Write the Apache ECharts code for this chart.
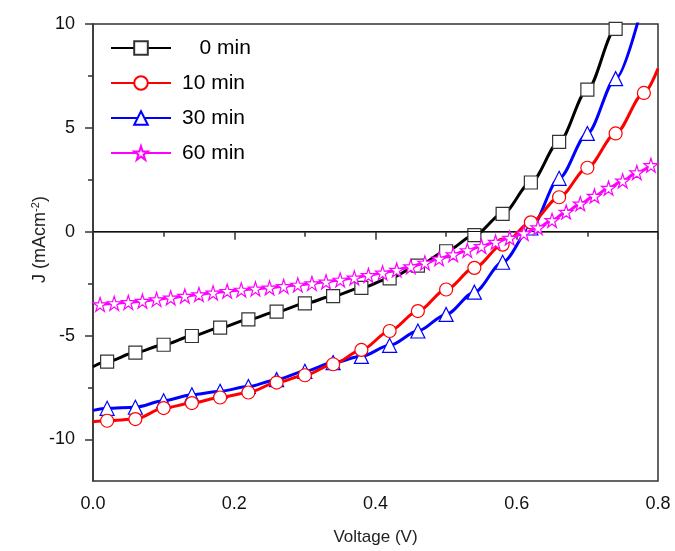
<!DOCTYPE html>
<html>
<head>
<meta charset="utf-8">
<script src="https://cdn.jsdelivr.net/npm/echarts@6/dist/echarts.min.js"></script>
<style>
  html, body { margin: 0; padding: 0; background: #fff; }
  #chart { width: 675px; height: 551px; }
</style>
</head>
<body>
<div id="chart"></div>
<script>
// voltages of the hollow markers (V)
const markV = [0.02, 0.06, 0.10, 0.14, 0.18, 0.22, 0.26, 0.30, 0.34, 0.38,
  0.42, 0.46, 0.50, 0.54, 0.58, 0.62, 0.66, 0.70, 0.74];
const markV10 = [0.02, 0.06, 0.10, 0.14, 0.18, 0.22, 0.26, 0.30, 0.34, 0.38,
  0.42, 0.46, 0.50, 0.54, 0.58, 0.62, 0.66, 0.70, 0.74, 0.78];
const starV = [0.01, 0.03, 0.05, 0.07, 0.09, 0.11, 0.13, 0.15, 0.17, 0.19,
  0.21, 0.23, 0.25, 0.27, 0.29, 0.31, 0.33, 0.35, 0.37, 0.39,
  0.41, 0.43, 0.45, 0.47, 0.49, 0.51, 0.53, 0.55, 0.57, 0.59,
  0.61, 0.63, 0.65, 0.67, 0.69, 0.71, 0.73, 0.75, 0.77, 0.79];

// current density (mA/cm2)
const j0 = [-6.25, -5.82, -5.44, -5.02, -4.62, -4.22, -3.85, -3.45, -3.10, -2.70,
  -2.25, -1.63, -0.94, -0.16, 0.86, 2.37, 4.33, 6.84, 9.77];
const j10 = [-9.10, -9.02, -8.49, -8.25, -7.98, -7.74, -7.26, -6.91, -6.38, -5.69,
  -4.78, -3.82, -2.78, -1.74, -0.62, 0.45, 1.66, 3.08, 4.73, 6.68];
const j30 = [-8.50, -8.45, -8.14, -7.85, -7.68, -7.45, -7.12, -6.72, -6.30, -6.00,
  -5.47, -4.78, -3.98, -2.91, -1.47, 0.18, 2.57, 4.73, 7.37];
const j60 = [-3.50, -3.45, -3.40, -3.34, -3.26, -3.18, -3.10, -3.02, -2.94, -2.86,
  -2.80, -2.75, -2.70, -2.63, -2.56, -2.49, -2.41, -2.32, -2.22, -2.10,
  -1.98, -1.84, -1.68, -1.50, -1.30, -1.10, -0.90, -0.70, -0.50, -0.30,
  -0.08, 0.20, 0.55, 0.95, 1.35, 1.72, 2.10, 2.45, 2.85, 3.20];

// where the fitted curves start and end (no marker there)
const j0Ends = [[0, -6.5], [0.76, 11.4]];
const j10Ends = [[0, -9.15], [0.8, 7.85]];
const j30Ends = [[0, -8.6], [0.78, 11.2]];

const yMajor = [-10, -5, 0, 5, 10];
const yMinor = [-7.5, -2.5, 2.5, 7.5];

const starPath = 'path://M50 0 L61.23 34.55 L97.55 34.55 L68.17 55.9 L79.39 90.45 L50 69.1 L20.61 90.45 L31.83 55.9 L2.45 34.55 L38.77 34.55 Z';

function build(v, j, ends) {
  const pts = v.map((x, i) => [x, j[i]]);
  if (!ends) return pts;
  return [{ value: ends[0], symbol: 'none' }, ...pts, { value: ends[1], symbol: 'none' }];
}

const font = 'Liberation Sans, Arial, sans-serif';

function lineSeries(name, color, data, symbol, size, borderColor, z) {
  return {
    name: name,
    type: 'line',
    data: data,
    z: z,
    smooth: 0.3,
    smoothMonotone: 'x',
    symbol: symbol,
    symbolSize: size,
    showAllSymbol: true,
    lineStyle: { color: color, width: 3 },
    itemStyle: { color: '#fff', borderColor: borderColor, borderWidth: 1.2 },
    emphasis: { disabled: true },
  };
}

const chart = echarts.init(document.getElementById('chart'), null, { renderer: 'canvas' });

const blackSeries = lineSeries('0 min', '#000', build(markV, j0, j0Ends), 'rect', 13, '#333', 2);
blackSeries.markLine = {
  silent: true,
  symbol: 'none',
  label: { show: false },
  lineStyle: { color: '#111', width: 1.2, type: 'solid' },
  data: [{ yAxis: 0 }],
};

const option = {
  animation: false,
  grid: {
    left: 93,
    right: 17,
    top: 24,
    bottom: 69,
    show: true,
    borderColor: '#333',
    borderWidth: 1.5,
  },
  legend: {
    data: ['0 min', '10 min', '30 min', '60 min'],
    orient: 'vertical',
    left: 105,
    top: 31,
    itemWidth: 60,
    itemHeight: 17,
    itemGap: 11,
    formatter: (n) => (n === '0 min' ? '   0 min' : n),
    textStyle: { fontFamily: font, fontSize: 21, color: '#000', lineHeight: 24, padding: [0, 0, 0, 6] },
  },
  xAxis: {
    type: 'value',
    min: 0,
    max: 0.8,
    interval: 0.2,
    name: 'Voltage (V)',
    nameLocation: 'middle',
    nameGap: 48,
    nameTextStyle: { fontFamily: font, fontSize: 17, color: '#222' },
    axisLine: { lineStyle: { color: '#333', width: 1.5 } },
    axisTick: { length: 8, lineStyle: { color: '#333', width: 1.5 } },
    minorTick: { show: true, splitNumber: 2, length: 5, lineStyle: { color: '#333', width: 1.5 } },
    axisLabel: {
      margin: 14,
      fontFamily: font,
      fontSize: 18,
      color: '#111',
      formatter: (v) => v.toFixed(1),
    },
    splitLine: { show: false },
  },
  yAxis: [
    {
      type: 'value',
      min: -12,
      max: 10,
      name: 'J (mAcm{sup|-2})',
      nameLocation: 'middle',
      nameGap: 43,
      nameMoveOverlap: false,
      nameTextStyle: {
        fontFamily: font,
        fontSize: 18,
        color: '#222',
        padding: [0, 0, 0, 26],
        rich: { sup: { fontFamily: font, fontSize: 11, color: '#222', padding: [0, 0, 9, 0] } },
      },
      axisLine: { show: true, lineStyle: { color: '#333', width: 1.5 } },
      axisTick: { show: true, length: 8, customValues: yMajor, lineStyle: { color: '#333', width: 1.5 } },
      axisLabel: { customValues: yMajor, margin: 18, fontFamily: font, fontSize: 18, color: '#111' },
      splitLine: { show: false },
    },
    {
      type: 'value',
      position: 'left',
      min: -12,
      max: 10,
      axisLine: { show: false },
      axisTick: { show: true, length: 5, customValues: yMinor, lineStyle: { color: '#333', width: 1.5 } },
      axisLabel: { show: false },
      splitLine: { show: false },
    },
  ],
  series: [
    blackSeries,
    lineSeries('30 min', '#0000ff', build(markV, j30, j30Ends), 'triangle', 14, '#0000ff', 3),
    lineSeries('10 min', '#ff0000', build(markV10, j10, j10Ends), 'circle', 13, '#ff0000', 4),
    lineSeries('60 min', '#ff00ff', build(starV, j60), starPath, 14, '#ff00ff', 5),
  ],
};

chart.setOption(option);
</script>
</body>
</html>
